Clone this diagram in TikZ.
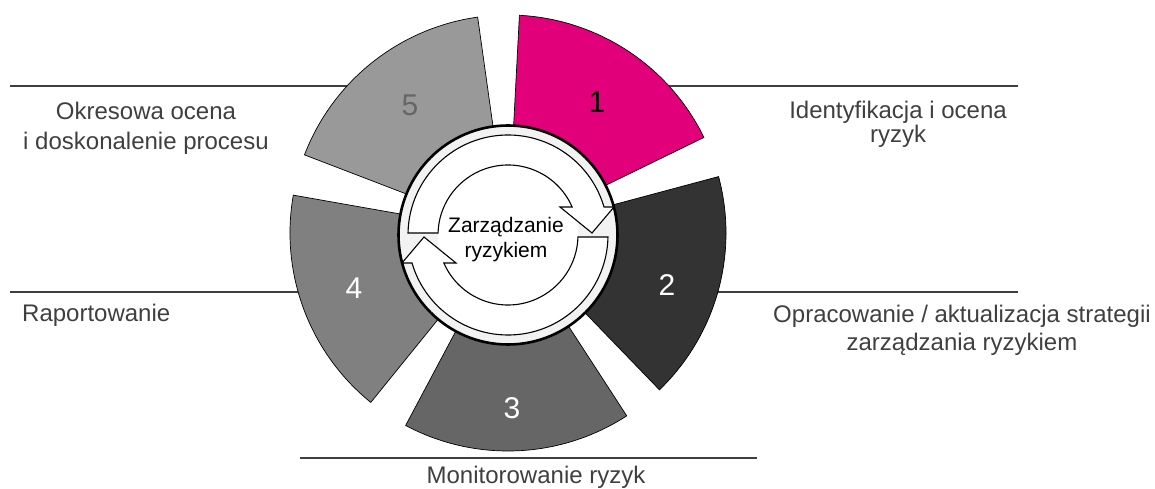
\documentclass[tikz,border=0pt]{standalone}
\usepackage{fontspec}
\setmainfont{Liberation Sans}
\definecolor{wone}{HTML}{E2007A}
\definecolor{wtwo}{HTML}{333333}
\definecolor{wthree}{HTML}{666666}
\definecolor{wfour}{HTML}{808080}
\definecolor{wfive}{HTML}{999999}
\definecolor{labelgray}{HTML}{3F3F3F}
\definecolor{ringgray}{HTML}{F2F2F2}
\begin{document}
\begin{tikzpicture}[x=1pt,y=1pt,
  sepline/.style={draw=labelgray,line width=2pt},
  wedge/.style={draw=black,line width=0.7pt},
  lbl/.style={inner sep=0pt,anchor=base,text=labelgray,font=\fontsize{24}{28}\selectfont},
  numlbl/.style={inner sep=0pt,font=\fontsize{30}{36}\selectfont},
  arrowshape/.style={fill=white,draw=black,line width=1.1pt,line join=miter}]
\useasboundingbox (-508,-254) rectangle (647,235);
% separator lines
\coordinate (tl1) at (-498,148.5); \coordinate (tl2) at (-110,148.5);
\coordinate (tr1) at (130,148.5);  \coordinate (tr2) at (510,148.5);
\coordinate (ml1) at (-498,-57);   \coordinate (ml2) at (-150,-57);
\coordinate (mr1) at (150,-57);    \coordinate (mr2) at (510,-57);
\coordinate (bl1) at (-208,-222.5); \coordinate (bl2) at (249,-222.5);
\draw[sepline] (tl1) -- (tl2);
\draw[sepline] (tr1) -- (tr2);
\draw[sepline] (ml1) -- (ml2);
\draw[sepline] (mr1) -- (mr2);
\draw[sepline] (bl1) -- (bl2);
% wedges
\begin{scope}[shift={(0,2)}]
\foreach \a/\c in {26/wone,98/wfive,170/wfour,242/wthree,314/wtwo}{
  \pgfmathsetmacro{\b}{\a+61}
  \draw[wedge,fill=\c] (\a:218pt) arc[start angle=\a, end angle=\b, radius=218pt]
     -- (\b:100pt) arc[start angle=\b, end angle=\a, radius=100pt] -- cycle;
}
\end{scope}
% central circle
\draw[fill=ringgray,draw=black,line width=2.6pt] (0,0) circle[radius=109.5pt];
\fill[white] (0,0) circle[radius=70pt];
\draw[arrowshape] (178.85:100pt) arc[start angle=178.85, end angle=16.26, radius=100pt]
   -- (106,28) -- (84,2) -- (52,28) -- (23.58:70pt)
   arc[start angle=23.58, end angle=178.36, radius=70pt] -- cycle;
\begin{scope}[rotate=180]
\draw[arrowshape] (178.85:100pt) arc[start angle=178.85, end angle=16.26, radius=100pt]
   -- (106,28) -- (84,2) -- (52,28) -- (23.58:70pt)
   arc[start angle=23.58, end angle=178.36, radius=70pt] -- cycle;
\end{scope}
\node[inner sep=0pt,anchor=base,font=\fontsize{21}{25}\selectfont] (c1) at (-2,2) {Zarządzanie};
\node[inner sep=0pt,anchor=base,font=\fontsize{21}{25}\selectfont] (c2) at (-2,-23) {ryzykiem};
% numbers
\node[numlbl,text=black] (n1) at (89,132.5) {1};
\node[numlbl,text=white] (n2) at (159,-50) {2};
\node[numlbl,text=white] (n3) at (4,-173.5) {3};
\node[numlbl,text=white] (n4) at (-154,-53.5) {4};
\node[numlbl,text=wthree] (n5) at (-98,130) {5};
% labels
\node[lbl] (l5a) at (-362,115) {Okresowa ocena};
\node[lbl] (l5b) at (-362,85) {i doskonalenie procesu};
\node[lbl] (l1a) at (390,116) {Identyfikacja i ocena};
\node[lbl] (l1b) at (390,92) {ryzyk};
\node[lbl,anchor=base west] (l4) at (-486,-87) {Raportowanie};
\node[lbl] (l2a) at (454,-88) {Opracowanie / aktualizacja strategii};
\node[lbl] (l2b) at (454,-115) {zarządzania ryzykiem};
\node[lbl] (l3) at (28,-248) {Monitorowanie ryzyk};
\end{tikzpicture}
\end{document}
